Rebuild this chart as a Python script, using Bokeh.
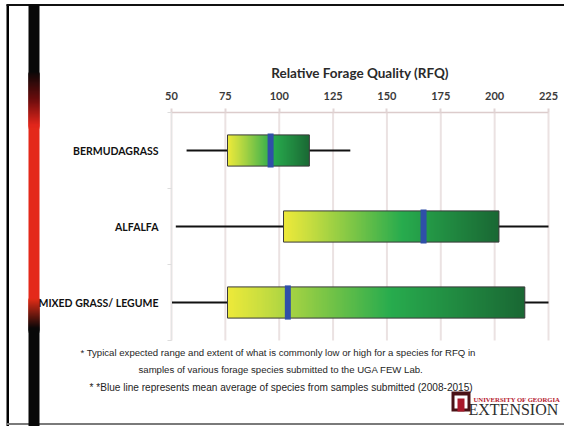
import numpy as np
from bokeh.plotting import figure
from bokeh.models import (Range1d, FixedTicker, Label, BoxAnnotation,
                          ColumnDataSource)
from bokeh.embed import file_html
from bokeh.resources import INLINE

# Relative Forage Quality ranges per forage species
categories = ["BERMUDAGRASS", "ALFALFA", "MIXED GRASS/ LEGUME"]
low = [57, 52, 50]          # whisker start (commonly low)
box_low = [76, 102, 76]     # typical range start
mean = [96, 167, 104]       # mean RFQ of submitted samples
box_high = [114, 202, 214]  # typical range end
high = [133, 225, 225]      # whisker end (commonly high)
x_ticks = [50, 75, 100, 125, 150, 175, 200, 225]

n = len(categories)
ypos = [n - i for i in range(n)]  # first category at the top

W, H = 564, 426
# pixel box of the chart area inside the page
C_LEFT, C_RIGHT, C_TOP, C_BOTTOM = 171, 548, 112, 340
X0, X1 = x_ticks[0], x_ticks[-1]
Y0, Y1 = 0.5, n + 0.5


def data_x(px):
    return X0 + (px - C_LEFT) * (X1 - X0) / (C_RIGHT - C_LEFT)


def data_y(py):
    return Y0 + (C_BOTTOM - py) * (Y1 - Y0) / (C_BOTTOM - C_TOP)


# the frame fills the whole page; axes are pinned at the chart edges
p = figure(width=W, height=H,
           x_range=Range1d(data_x(0), data_x(W)), y_range=Range1d(data_y(H), data_y(0)),
           x_axis_location="above", output_backend="svg", toolbar_location=None,
           min_border=0, min_border_left=0, min_border_right=0,
           min_border_top=0, min_border_bottom=0)
p.outline_line_color = None
p.background_fill_color = "white"
p.border_fill_color = "white"
p.grid.visible = False

# vertical grid lines over the chart area
p.segment(x0=x_ticks, x1=x_ticks, y0=Y0, y1=Y1, line_color="#ebe2e2", line_width=2)

# top value axis
xa = p.xaxis[0]
xa.fixed_location = Y1
xa.bounds = (X0, X1)
xa.ticker = FixedTicker(ticks=x_ticks)
xa.axis_label = "Relative Forage Quality (RFQ)"
xa.axis_label_text_font = "Lato"
xa.axis_label_text_font_style = "bold"
xa.axis_label_text_font_size = "13.5px"
xa.axis_label_text_color = "#2a2a2a"
xa.axis_label_standoff = 8
xa.major_label_text_font = "Lato"
xa.major_label_text_font_style = "bold"
xa.major_label_text_font_size = "11px"
xa.major_label_text_color = "#3a3a3a"
xa.major_label_standoff = 9
xa.axis_line_color = "#dccccc"
xa.axis_line_width = 1.5
xa.major_tick_line_color = "#e2d6d6"
xa.major_tick_line_width = 2
xa.major_tick_out = 4
xa.major_tick_in = 0
xa.minor_tick_line_color = None

# category axis
ya = p.yaxis[0]
ya.fixed_location = X0
ya.bounds = (Y0, Y1)
ya.ticker = FixedTicker(ticks=ypos, minor_ticks=[v + 0.5 for v in range(n + 1)])
ya.major_label_overrides = {y: c for y, c in zip(ypos, categories)}
ya.major_label_text_font = "Lato"
ya.major_label_text_font_style = "bold"
ya.major_label_text_font_size = "10.5px"
ya.major_label_text_color = "#111111"
ya.major_label_standoff = 7
ya.axis_line_color = "#e4e4e4"
ya.major_tick_line_color = None
ya.minor_tick_line_color = "#dddddd"
ya.minor_tick_out = 4
ya.minor_tick_in = 0

# whiskers
p.segment(x0=low, y0=ypos, x1=high, y1=ypos, line_color="#111111", line_width=2)

# gradient fill of each typical-range box
stops = [0.0, 0.12, 0.55, 1.0]
reds = [238, 200, 40, 26]
greens = [234, 222, 172, 104]
blues = [58, 64, 78, 52]
t = np.linspace(0, 1, 256)
rgba = np.zeros((1, 256, 4), dtype=np.uint8)
rgba[0, :, 0] = np.interp(t, stops, reds)
rgba[0, :, 1] = np.interp(t, stops, greens)
rgba[0, :, 2] = np.interp(t, stops, blues)
rgba[0, :, 3] = 255
grad = rgba.view(dtype=np.uint32).reshape((1, 256))

box_h = 0.41
src = ColumnDataSource(dict(
    image=[grad] * n,
    x=box_low,
    y=[y - box_h / 2 for y in ypos],
    dw=[hi - lo for lo, hi in zip(box_low, box_high)],
    dh=[box_h] * n,
))
p.image_rgba(image="image", x="x", y="y", dw="dw", dh="dh", source=src)
p.quad(left=box_low, right=box_high,
       bottom=[y - box_h / 2 for y in ypos], top=[y + box_h / 2 for y in ypos],
       fill_color=None, line_color="#3a3a3a", line_width=1)

# mean markers
p.segment(x0=mean, x1=mean, y0=[y - 0.225 for y in ypos], y1=[y + 0.225 for y in ypos],
          line_color="#2f4fa8", line_width=6)


def box(l, r, t_, b, color, level="underlay"):
    p.add_layout(BoxAnnotation(left=data_x(l), right=data_x(r),
                               top=data_y(t_), bottom=data_y(b),
                               fill_color=color, fill_alpha=1, line_color=None,
                               level=level))


# page frame lines
box(6, 8.5, 4, 426, "#000000")
box(6, 564, 3.5, 5.5, "#111111")
box(6, 564, 422.5, 424.5, "#7a7a7a")


# side bar: black, fading into red and back to black
def bar_color(y):
    pts = [4, 72, 100, 125, 298, 328, 426]
    r = [8, 12, 110, 225, 232, 10, 8]
    g = [8, 8, 14, 38, 46, 8, 8]
    b = [8, 8, 14, 28, 24, 8, 8]
    return "#%02x%02x%02x" % (int(np.interp(y, pts, r)), int(np.interp(y, pts, g)),
                             int(np.interp(y, pts, b)))


box(28, 39, 4, 74, bar_color(10))
for yy in range(72, 126):
    box(28, 39, yy, yy + 3, bar_color(yy + 1))
box(28, 39, 127, 300, bar_color(200))
for yy in range(298, 330):
    box(28, 39, yy, yy + 3, bar_color(yy + 1))
box(28, 39, 331, 426, bar_color(400))

# footnotes
notes = [
    ("* Typical expected range and extent of what is commonly low or high for a species for RFQ in", 80, 352, "9.6px"),
    ("samples of various forage species submitted to the UGA FEW Lab.", 138, 369, "9.6px"),
    ("* *Blue line represents mean average of species from samples submitted (2008-2015)", 89, 387, "10.1px"),
]
for txt, lx, ly, fs in notes:
    p.add_layout(Label(x=data_x(lx), y=data_y(ly), text=txt, text_font="Liberation Sans",
                       text_font_size=fs, text_color="#1e1e1e",
                       text_align="left", text_baseline="middle"))

# extension logo
box(451, 470, 391, 411, "#4a1216", "overlay")
box(454, 467, 395, 408, "#ffffff", "overlay")
box(457, 464, 398, 411, "#a8182a", "overlay")
p.add_layout(Label(x=data_x(473), y=data_y(398.5), text="UNIVERSITY OF GEORGIA",
                   text_font="Liberation Serif", text_font_style="bold",
                   text_font_size="6.7px", text_color="#b5162b",
                   text_align="left", text_baseline="middle"))
p.add_layout(Label(x=data_x(468), y=data_y(408.5), text="EXTENSION",
                   text_font="Liberation Serif", text_font_size="16px",
                   text_color="#2e2e2e", text_align="left", text_baseline="middle"))

open("out.html", "w").write(file_html(p, INLINE))
